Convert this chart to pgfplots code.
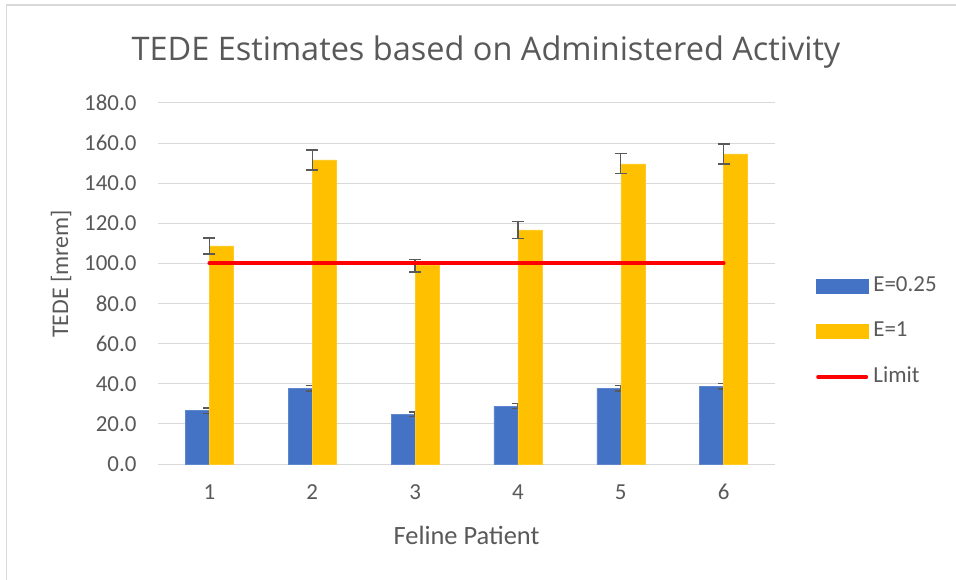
\documentclass[border=0pt]{standalone}
\usepackage{pgfplots}
\pgfplotsset{compat=1.18}
\usepackage{fontspec}
\setmainfont{Carlito}
\newfontfamily\titlefont{Open Sans}
\definecolor{txt}{HTML}{595959}
\definecolor{gridgray}{HTML}{D9D9D9}
\definecolor{eblue}{HTML}{4472C4}
\definecolor{eyellow}{HTML}{FFC000}
\definecolor{ered}{HTML}{FF0000}
\begin{document}
\begin{tikzpicture}
\useasboundingbox (-158bp,-116bp) rectangle (798bp,464bp);
\fill[white] (-158bp,-116bp) rectangle (798bp,464bp);
\draw[gridgray, line width=1.2bp] (-151.5bp,-120bp) -- (-151.5bp,459bp) -- (802bp,459bp);
\begin{axis}[
  at={(0,0)}, anchor=south west,
  scale only axis, width=617bp, height=361bp,
  xmin=0.5, xmax=6.5, ymin=0, ymax=180,
  xtick={1,2,3,4,5,6}, ytick={0,20,...,180},
  /pgf/number format/assume math mode=true,
  yticklabel={\pgfmathprintnumber[fixed,fixed zerofill,precision=1]{\tick}},
  major tick length=0pt,
  xmajorgrids=false, ymajorgrids=true,
  grid style={gridgray, line width=1bp},
  axis line style={draw=none},
  axis x line*=bottom, axis y line*=left,
  ticklabel style={font=\fontsize{23}{27}\selectfont, text=txt},
  yticklabel style={xshift=-18bp},
  xticklabel style={yshift=-17bp},
  xlabel={Feline Patient}, ylabel={TEDE [mrem]},
  xlabel style={font=\fontsize{26.5}{30}\selectfont, text=txt, at={(axis description cs:0.5,-0.1967)}, anchor=center},
  ylabel style={font=\fontsize{24}{28}\selectfont, text=txt, at={(axis description cs:-0.1572,0.5263)}, anchor=center},
  legend style={at={(658bp,189bp)}, anchor=north west, draw=none, fill=none,
    inner sep=0pt, outer sep=0pt,
    nodes={inner sep=0pt, text height=16bp, text depth=6bp},
    font=\fontsize{23}{27}\selectfont, text=txt, row sep=23.5bp, column sep=5bp},
  legend cell align=left,
  clip=false,
]
\draw[gridgray, line width=1bp] (axis cs:0.5,0) -- (axis cs:6.5,0);
\addplot[ybar, bar width=24bp, bar shift=-12bp, fill=eblue, draw=eblue!85!white,
  legend image code/.code={\fill[eblue] (0bp,-7bp) rectangle (52bp,7bp);},
  error bars/.cd, y dir=both, y explicit,
  error bar style={txt, line width=1.4bp},
  error mark options={rotate=90, mark size=6bp, txt, line width=1.4bp},
  ] coordinates {
  (1,26.6) +- (0,1.4)
  (2,37.7) +- (0,1.3)
  (3,24.8) +- (0,1.1)
  (4,28.9) +- (0,1.2)
  (5,37.7) +- (0,1.3)
  (6,38.7) +- (0,1.3)
};
\addlegendentry{E=0.25}
\addplot[ybar, bar width=24bp, bar shift=12bp, fill=eyellow, draw=eyellow!85!white,
  legend image code/.code={\fill[eyellow] (0bp,-7bp) rectangle (52bp,7bp);},
  error bars/.cd, y dir=both, y explicit,
  error bar style={txt, line width=1.4bp},
  error mark options={rotate=90, mark size=6bp, txt, line width=1.4bp},
  ] coordinates {
  (1,108.7) +- (0,4.0)
  (2,151.6) +- (0,5.0)
  (3,98.9) +- (0,3.2)
  (4,116.7) +- (0,4.2)
  (5,149.7) +- (0,5.0)
  (6,154.6) +- (0,5.0)
};
\addlegendentry{E=1}
\addplot[sharp plot, ered, line width=4bp, line cap=round, mark=none,
  legend image code/.code={\draw[ered, line width=4bp, line cap=round] (2bp,0bp) -- (50bp,0bp);},
  ] coordinates {
  (1,100) (2,100) (3,100) (4,100) (5,100) (6,100)
};
\addlegendentry{Limit}
\node[font=\titlefont\fontsize{32.6}{38}\selectfont, text=txt] at (axis cs:0.5,0) [xshift=328bp, yshift=412bp] {TEDE Estimates based on Administered Activity};
\end{axis}
\end{tikzpicture}
\end{document}
